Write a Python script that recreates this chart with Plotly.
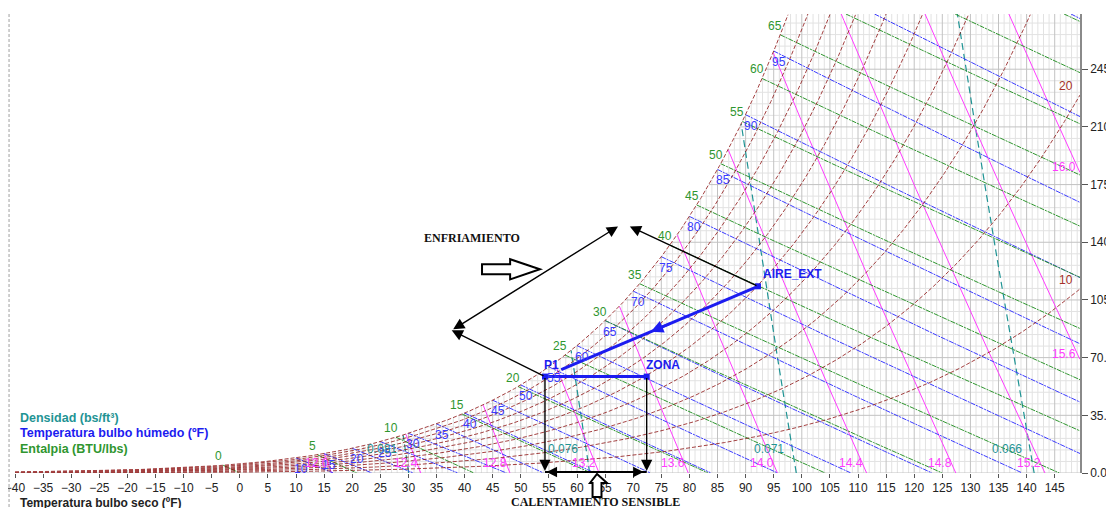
import numpy as np
import plotly.graph_objects as go

# ------------------------------------------------------------------ data
P_ATM = 14.696                      # psia
T_RANGE = [-40, 149.5]              # dry bulb, F
W_RANGE = [0, 278.5]                # grains / lb dry air

x_tick_vals = [-40, -35, -30, -25, -20, -15, -10, -5, 0, 5, 10, 15, 20, 25, 30, 35,
               40, 45, 50, 55, 60, 65, 70, 75, 80, 85, 90, 95, 100, 105, 110, 115,
               120, 125, 130, 135, 140, 145]
y_tick_vals = [0, 35, 70, 105, 140, 175, 210, 245, 280]
y_tick_text = ["0.0", "35.0", "70.0", "105.0", "140.0", "175.0", "210.0", "245.0", "280.0"]

rh_levels = [10, 20, 30, 40, 50, 60, 70, 80, 90, 100]          # %
rh_labels = [10, 20]
enthalpy_levels = [0, 5, 10, 15, 20, 25, 30, 35, 40, 45, 50, 55, 60, 65, 70, 75, 80]
enthalpy_labels = [0, 5, 10, 15, 20, 25, 30, 35, 40, 45, 50, 55, 60, 65]
wetbulb_levels = [10, 15, 20, 25, 30, 35, 40, 45, 50, 55, 60, 65, 70, 75, 80, 85,
                  90, 95, 100, 105]
wetbulb_labels = [10, 15, 20, 25, 30, 35, 40, 45, 50, 55, 60, 65, 70, 75, 80, 85, 90, 95]
volume_levels = [12.0, 12.4, 12.8, 13.2, 13.6, 14.0, 14.4, 14.8, 15.2, 15.6, 16.0]
density_levels = [0.081, 0.076, 0.071, 0.066]

point_names = ["AIRE_EXT", "P1", "ZONA"]
point_tdb = [92.2, 54.3, 72.4]
point_gr = [113.3, 58.5, 58.5]
mix_end_tdb = 57.2
mix_end_gr = 62.7

# cooling-diagram corners (left corner, top corner A, top corner B)
cool_tdb = [37.7, 67.3, 69.4]
cool_gr = [86.6, 149.6, 149.6]

# ------------------------------------------------------------------ psychrometrics
def p_sat(t):
    t = np.asarray(t, dtype=float)
    T = t + 459.67
    ice = (-1.0214165e4 / T - 4.8932428 - 5.3765794e-3 * T + 1.9202377e-7 * T**2
           + 3.5575832e-10 * T**3 - 9.0344688e-14 * T**4 + 4.1635019 * np.log(T))
    liq = (-1.0440397e4 / T - 11.29465 - 2.7022355e-2 * T + 1.289036e-5 * T**2
           - 2.4780681e-9 * T**3 + 6.5459673 * np.log(T))
    return np.exp(np.where(t < 32, ice, liq))


def w_from_pw(pw):
    return 7000.0 * 0.621945 * pw / (P_ATM - pw)


def w_sat(t):
    return w_from_pw(p_sat(t))


T_FINE = np.linspace(-45, 160, 20501)
WS_FINE = w_sat(T_FINE)
HS_FINE = 0.24 * T_FINE + WS_FINE / 7000 * (1061 + 0.444 * T_FINE)


def t_dew(w):
    return np.interp(w, WS_FINE, T_FINE)


def t_sat_h(h):
    return float(np.interp(h, HS_FINE, T_FINE))


def segs(xs, ys):
    X, Y = [], []
    for x, y in zip(xs, ys):
        X.extend(list(x) + [None])
        Y.extend(list(y) + [None])
    return X, Y


def clip(t, w):
    ok = (w >= 0) & (w <= W_RANGE[1]) & (t >= T_RANGE[0]) & (t <= T_RANGE[1]) & (w <= w_sat(t) * 1.0005 + 1e-6)
    t = np.where(ok, t, np.nan)
    w = np.where(ok, w, np.nan)
    return t, w


def enthalpy_line(h):
    t0 = t_sat_h(h)
    t = np.linspace(t0, T_RANGE[1], 700)
    w = 7000 * (h - 0.24 * t) / (1061 + 0.444 * t)
    return clip(t, w)


def wetbulb_line(tw):
    ws = w_sat(tw) / 7000
    t = np.linspace(tw, T_RANGE[1], 700)
    if tw >= 32:
        w = ((1093 - 0.556 * tw) * ws - 0.24 * (t - tw)) / (1093 + 0.444 * t - tw)
    else:
        w = ((1220 - 0.04 * tw) * ws - 0.24 * (t - tw)) / (1220 + 0.444 * t - 0.48 * tw)
    return clip(t, w * 7000)


def volume_t(v, w):
    wl = w / 7000
    return v * P_ATM / (0.370486 * (1 + 1.607858 * wl)) - 459.67


def volume_w_at(v, t):
    return 7000 * (v * P_ATM / (0.370486 * (t + 459.67)) - 1) / 1.607858


def density_t(rho, w):
    wl = w / 7000
    return (1 + wl) / rho * P_ATM / (0.370486 * (1 + 1.607858 * wl)) - 459.67


def rh_w(rh, t):
    return w_from_pw(rh / 100 * p_sat(t))


# ------------------------------------------------------------------ colours
C_RH = "#8f1414"
C_H = "#2f962f"
C_WB = "#3b3bff"
C_V = "#ff3cff"
C_D = "#1f9494"
C_PT = "#1c1cf0"

fig = go.Figure()

# ---- grid (only under the saturation curve)
minor_v, major_v = [], []
for ti in range(-40, 150):
    top = min(float(w_sat(ti)), W_RANGE[1])
    (major_v if ti % 5 == 0 else minor_v).append(([ti, ti], [0, top]))
minor_h, major_h = [], []
for wj in range(0, 281, 7):
    if wj > W_RANGE[1]:
        continue
    t0 = float(t_dew(wj)) if wj > 0 else T_RANGE[0]
    (major_h if wj % 35 == 0 else minor_h).append(([max(t0, T_RANGE[0]), T_RANGE[1]], [wj, wj]))

for group, col, wid in [(minor_v + minor_h, "#e2e2e2", 1), (major_v + major_h, "#c2c2c2", 1)]:
    X, Y = segs([g[0] for g in group], [g[1] for g in group])
    fig.add_trace(go.Scatter(x=X, y=Y, mode="lines", line=dict(color=col, width=wid),
                             hoverinfo="skip"))

# ---- density lines
Wg = np.linspace(0, W_RANGE[1], 900)
xs, ys = [], []
for rho in density_levels:
    t, w = clip(density_t(rho, Wg), Wg.copy())
    xs.append(t); ys.append(w)
X, Y = segs(xs, ys)
fig.add_trace(go.Scatter(x=X, y=Y, mode="lines", line=dict(color=C_D, width=1.2, dash="7px,4px"),
                         hoverinfo="skip"))

# ---- specific volume lines
xs, ys = [], []
for v in volume_levels:
    t, w = clip(volume_t(v, Wg), Wg.copy())
    xs.append(t); ys.append(w)
X, Y = segs(xs, ys)
fig.add_trace(go.Scatter(x=X, y=Y, mode="lines", line=dict(color=C_V, width=1),
                         hoverinfo="skip"))

# ---- wet bulb lines
xs, ys = [], []
for tw in wetbulb_levels:
    t, w = wetbulb_line(tw)
    xs.append(t); ys.append(w)
X, Y = segs(xs, ys)
fig.add_trace(go.Scatter(x=X, y=Y, mode="lines", line=dict(color=C_WB, width=1, dash="5px,1px,2px,1px"),
                         hoverinfo="skip"))

# ---- enthalpy lines
xs, ys = [], []
for h in enthalpy_levels:
    t, w = enthalpy_line(h)
    xs.append(t); ys.append(w)
X, Y = segs(xs, ys)
fig.add_trace(go.Scatter(x=X, y=Y, mode="lines", line=dict(color=C_H, width=1, dash="5px,1px,2px,1px"),
                         hoverinfo="skip"))

# ---- relative humidity curves
Tg = np.linspace(T_RANGE[0], T_RANGE[1], 1500)
xs, ys = [], []
for rh in rh_levels:
    w = rh_w(rh, Tg)
    ok = w <= W_RANGE[1]
    xs.append(np.where(ok, Tg, np.nan)); ys.append(np.where(ok, w, np.nan))
X, Y = segs(xs, ys)
fig.add_trace(go.Scatter(x=X, y=Y, mode="lines", line=dict(color=C_RH, width=1, dash="4px,2px"),
                         opacity=0.8, hoverinfo="skip"))

# ---- process lines
fig.add_trace(go.Scatter(x=[point_tdb[0], mix_end_tdb], y=[point_gr[0], mix_end_gr], mode="lines",
                         line=dict(color=C_PT, width=3), hoverinfo="skip"))
fig.add_trace(go.Scatter(x=[point_tdb[1], point_tdb[2]], y=[point_gr[1], point_gr[2]], mode="lines",
                         line=dict(color=C_PT, width=3), hoverinfo="skip"))
fig.add_trace(go.Scatter(x=[point_tdb[1], point_tdb[2]], y=[0.6, 0.6], mode="lines",
                         line=dict(color="black", width=2), hoverinfo="skip"))
fig.add_trace(go.Scatter(x=point_tdb, y=point_gr, mode="markers",
                         marker=dict(color=C_PT, size=6, symbol="square"), hoverinfo="skip"))

# ------------------------------------------------------------------ annotations
ann = []
lab_font = dict(family="Liberation Sans, Arial", size=12)

for h in enthalpy_labels:
    t0 = t_sat_h(h)
    ann.append(dict(x=t0, y=float(w_sat(t0)), text=str(h), showarrow=False, xshift=-5, yshift=9,
                    font=dict(lab_font, color=C_H)))
for tw in wetbulb_labels:
    ann.append(dict(x=tw, y=float(w_sat(tw)), text=str(tw), showarrow=False, xshift=5, yshift=-11,
                    font=dict(lab_font, color=C_WB)))
for v in volume_levels:
    tb = float(volume_t(v, 6.0))
    if tb <= T_RANGE[1]:
        ann.append(dict(x=tb, y=6.0, text=f"{v:.1f}", showarrow=False, xshift=-11, yshift=0,
                        font=dict(lab_font, color=C_V)))
    else:
        ann.append(dict(x=146.6, y=float(volume_w_at(v, T_RANGE[1])), text=f"{v:.1f}", showarrow=False,
                        yshift=6, font=dict(lab_font, color=C_V)))
for rho in density_levels:
    ann.append(dict(x=float(density_t(rho, 14.6)), y=14.6, text=f"{rho:.3f}", showarrow=False,
                    xshift=-23, font=dict(lab_font, color=C_D)))
for rh in rh_labels:
    ann.append(dict(x=147.0, y=float(rh_w(rh, T_RANGE[1])), text=str(rh), showarrow=False, yshift=9,
                    font=dict(lab_font, color="#a5302a")))

# point labels
pt_font = dict(family="Liberation Sans, Arial", size=12, color=C_PT)
for name, t, w, dx in zip(point_names, point_tdb, point_gr, [35, 7, 16]):
    ann.append(dict(x=t, y=w, text=f"<b>{name}</b>", showarrow=False, xshift=dx, yshift=12, font=pt_font))


def arrow(hx, hy, tx, ty, color="black", width=1.4, size=1.6, side="end"):
    d = dict(x=hx, y=hy, ax=tx, ay=ty, xref="x", yref="y", axref="x", ayref="y", text="",
             showarrow=True, arrowhead=2, arrowsize=size, arrowwidth=width, arrowcolor=color,
             arrowside=side, standoff=0, startstandoff=0)
    if "start" in side:
        d.update(startarrowhead=2, startarrowsize=size)
    return d


# cooling diagram
ann.append(arrow(cool_tdb[0], cool_gr[0], point_tdb[1], point_gr[1]))
ann.append(arrow(cool_tdb[1], cool_gr[1], cool_tdb[0], cool_gr[0], side="end+start"))
ann.append(arrow(cool_tdb[2], cool_gr[2], point_tdb[0], point_gr[0]))
# sensible heating verticals
ann.append(arrow(point_tdb[1], 1.2, point_tdb[1], point_gr[1]))
ann.append(arrow(point_tdb[2], 1.2, point_tdb[2], point_gr[2]))
ann.append(arrow(point_tdb[1] + 0.3, 0.6, point_tdb[2] - 0.3, 0.6, side="end+start", width=1.6, size=1.3))
# arrow on the mixing line
fa, fb = 0.44, 0.545
hx = point_tdb[0] + (mix_end_tdb - point_tdb[0]) * fb
hy = point_gr[0] + (mix_end_gr - point_gr[0]) * fb
tx = point_tdb[0] + (mix_end_tdb - point_tdb[0]) * fa
ty = point_gr[0] + (mix_end_gr - point_gr[0]) * fa
ann.append(arrow(hx, hy, tx, ty, color=C_PT, width=2.5, size=1.0))

serif = dict(family="Liberation Serif, Times New Roman", size=12, color="#111")
ann.append(dict(x=41.3, y=142.6, text="<b>ENFRIAMIENTO</b>", showarrow=False, font=serif))
ann.append(dict(x=0.5455, y=-0.064, xref="paper", yref="paper", xanchor="center", yanchor="middle",
                text="<b>CALENTAMIENTO SENSIBLE</b>", showarrow=False, font=serif))

# legend-like texts and axis title
for txt, col, yp in [("Densidad (bs/ft³)", C_D, 0.120), ("Temperatura bulbo húmedo (ºF)", C_PT, 0.087),
                     ("Entalpia (BTU/lbs)", C_H, 0.052)]:
    ann.append(dict(x=0.003, y=yp, xref="paper", yref="paper", xanchor="left", yanchor="middle",
                    text=f"<b>{txt}</b>", showarrow=False,
                    font=dict(family="Liberation Sans, Arial", size=12.5, color=col)))
ann.append(dict(x=0.003, y=-0.066, xref="paper", yref="paper", xanchor="left", yanchor="middle",
                text="<b>Temperatura bulbo seco (ºF)</b>", showarrow=False,
                font=dict(family="Liberation Sans, Arial", size=12, color="#222")))

# ------------------------------------------------------------------ shapes
shapes = []
# hollow right arrow (cooling)
tip_t, tip_w = 53.4, 123.6
p = [(tip_t - 10.3, tip_w + 3.0), (tip_t - 5.3, tip_w + 3.0), (tip_t - 5.3, tip_w + 6.1), (tip_t, tip_w),
     (tip_t - 5.3, tip_w - 6.1), (tip_t - 5.3, tip_w - 3.0), (tip_t - 10.3, tip_w - 3.0)]
path = "M " + " L ".join(f"{a:.3f},{b:.3f}" for a, b in p) + " Z"
shapes.append(dict(type="path", path=path, xref="x", yref="y", line=dict(color="black", width=2),
                   fillcolor="white"))
# hollow up arrow (sensible heating), in paper coordinates below the axis
q = [(0.5465, -0.002), (0.5559, -0.0218), (0.5507, -0.0218), (0.5507, -0.0523), (0.5423, -0.0523),
     (0.5423, -0.0218), (0.5399, -0.0218)]
path = "M " + " L ".join(f"{a:.4f},{b:.4f}" for a, b in q) + " Z"
shapes.append(dict(type="path", path=path, xref="paper", yref="paper", line=dict(color="black", width=2),
                   fillcolor="white"))
# dashed frame line at far left
shapes.append(dict(type="line", xref="paper", yref="paper", x0=-0.0056, x1=-0.0056, y0=1.0, y1=-0.08,
                   line=dict(color="#a0a0a0", width=1, dash="3px,2px")))

# the page body adds an 8 px margin, so the figure is 8 px smaller and shifted
fig.update_layout(
    width=1106, height=500,
    margin=dict(l=7, r=34, t=6, b=35),
    paper_bgcolor="white", plot_bgcolor="white",
    showlegend=False, template="none",
    annotations=ann, shapes=shapes,
    xaxis=dict(range=T_RANGE, tickvals=x_tick_vals, showgrid=False, zeroline=False, showline=False,
               ticks="outside", ticklen=4, tickcolor="#555", automargin=False,
               ticklabeloverflow="allow",
               tickfont=dict(family="Liberation Sans, Arial", size=12, color="#222")),
    yaxis=dict(range=W_RANGE, side="right", tickvals=y_tick_vals, ticktext=y_tick_text, showgrid=False,
               zeroline=False, showline=True, linecolor="#8a8a8a", linewidth=1.5, ticks="outside",
               ticklen=6, tickcolor="#555", automargin=False, ticklabeloverflow="allow",
               tickfont=dict(family="Liberation Sans, Arial", size=12, color="#222")),
)

fig.write_html("out.html")
